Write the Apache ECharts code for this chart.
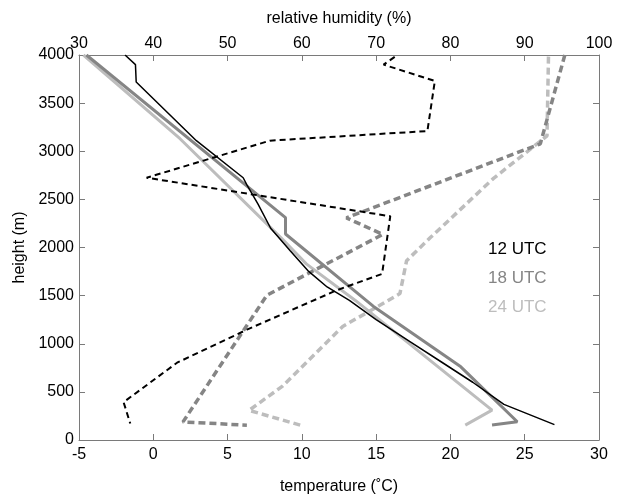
<!DOCTYPE html>
<html>
<head>
<meta charset="utf-8">
<script src="https://cdn.jsdelivr.net/npm/echarts@6/dist/echarts.min.js"></script>
<style>html,body{margin:0;padding:0;background:#fff}#c{width:622px;height:500px}</style>
</head>
<body>
<div id="c"></div>
<script>
// Temperature profiles (height m, temperature °C)
const t12_h = [4000, 3900, 3720, 3110, 2725, 2650, 2450, 2200, 1970, 1760, 1590, 1450, 1250, 1020, 800, 600, 370, 160];
const t12_T = [-1.9, -1.2, -1.15, 2.9, 6.05, 6.3, 7.05, 7.9, 9.2, 10.4, 11.7, 13.2, 15.0, 17.3, 19.5, 21.5, 23.6, 27.0];
const t18_h = [4000, 2310, 2140, 1390, 760, 190, 155];
const t18_T = [-4.5, 8.9, 8.9, 14.8, 20.7, 24.5, 22.8];
const t24_h = [4000, 3130, 2100, 1830, 1450, 310, 155];
const t24_T = [-4.7, 1.8, 8.6, 10.3, 13.6, 22.8, 21.0];
// Relative humidity profiles (height m, RH %)
const rh12_h = [3980, 3900, 3730, 3210, 3110, 2725, 2325, 1726, 1556, 1146, 803, 393, 171];
const rh12_v = [72.5, 71.0, 77.9, 76.9, 55.7, 39.1, 71.9, 70.8, 64.7, 52.6, 43.2, 36.0, 36.9];
const rh18_h = [4000, 3077, 2308, 2136, 1505, 188, 154];
const rh18_v = [95.4, 92.1, 66.0, 70.9, 55.3, 44.0, 52.6];
const rh24_h = [3983, 3160, 2718, 2103, 1863, 1521, 1400, 1180, 560, 308, 154];
const rh24_v = [93.2, 93.0, 85.8, 77.3, 74.1, 73.2, 70.5, 65.5, 57.4, 52.9, 59.8];
const legendNames = ['12 UTC', '18 UTC', '24 UTC'];
const colors = ['#000000', '#858585', '#bdbdbd'];

const pairs = (xs, hs) => xs.map((x, i) => [x, hs[i]]);
const FONT = "'Liberation Sans', Arial, sans-serif";
const axisLine = { show: true, onZero: false, lineStyle: { color: '#7a7a7a', width: 1 } };
const axisTick = { inside: true, length: 6, lineStyle: { color: '#7a7a7a' } };
const plain = v => String(v);

const chart = echarts.init(document.getElementById('c'), null, { renderer: 'canvas' });
chart.setOption({
  animation: false,
  backgroundColor: '#fff',
  textStyle: { fontFamily: FONT },
  grid: { left: 79, right: 23, top: 55, bottom: 55, containLabel: false },
  xAxis: [
    { type: 'value', position: 'bottom', min: -5, max: 30, interval: 5,
      name: 'temperature (˚C)', nameLocation: 'middle', nameGap: 39,
      nameTextStyle: { fontSize: 16, color: '#000', fontFamily: FONT },
      axisLine, axisTick, splitLine: { show: false },
      axisLabel: { fontSize: 16, color: '#000', margin: 7, fontFamily: FONT, formatter: plain } },
    { type: 'value', position: 'top', min: 30, max: 100, interval: 10,
      name: 'relative humidity (%)', nameLocation: 'middle', nameGap: 28,
      nameTextStyle: { fontSize: 16, color: '#000', fontFamily: FONT },
      axisLine, axisTick, splitLine: { show: false },
      axisLabel: { fontSize: 16, color: '#000', margin: 3, fontFamily: FONT, formatter: plain } }
  ],
  yAxis: [
    { type: 'value', position: 'left', min: 0, max: 4000, interval: 500,
      name: 'height (m)', nameLocation: 'middle', nameGap: 48,
      nameTextStyle: { fontSize: 16, color: '#000', fontFamily: FONT },
      axisLine, axisTick, splitLine: { show: false },
      axisLabel: { fontSize: 16, color: '#000', margin: 5, fontFamily: FONT, formatter: plain } },
    { type: 'value', position: 'right', min: 0, max: 4000, interval: 500,
      axisLine, axisTick, splitLine: { show: false },
      axisLabel: { show: false } }
  ],
  series: [
    { name: legendNames[0] + ' T', type: 'line', xAxisIndex: 0, yAxisIndex: 0, showSymbol: false,
      data: pairs(t12_T, t12_h), lineStyle: { color: colors[0], width: 1.5 }, z: 5 },
    { name: legendNames[1] + ' T', type: 'line', xAxisIndex: 0, yAxisIndex: 0, showSymbol: false,
      data: pairs(t18_T, t18_h), lineStyle: { color: colors[1], width: 3 }, z: 4 },
    { name: legendNames[2] + ' T', type: 'line', xAxisIndex: 0, yAxisIndex: 0, showSymbol: false,
      data: pairs(t24_T, t24_h), lineStyle: { color: colors[2], width: 3 }, z: 3 },
    { name: legendNames[0] + ' RH', type: 'line', xAxisIndex: 1, yAxisIndex: 0, showSymbol: false,
      data: pairs(rh12_v, rh12_h), lineStyle: { color: colors[0], width: 2, type: [6, 4] }, z: 5 },
    { name: legendNames[1] + ' RH', type: 'line', xAxisIndex: 1, yAxisIndex: 0, showSymbol: false,
      data: pairs(rh18_v, rh18_h), lineStyle: { color: colors[1], width: 3.5, type: [7, 4] }, z: 4 },
    { name: legendNames[2] + ' RH', type: 'line', xAxisIndex: 1, yAxisIndex: 0, showSymbol: false,
      data: pairs(rh24_v, rh24_h), lineStyle: { color: colors[2], width: 3.5, type: [7, 4] }, z: 3 }
  ],
  graphic: legendNames.map((n, i) => ({
    type: 'text', left: 488, top: 241 + i * 29, z: 10,
    style: { text: n, fill: colors[i], font: '17px ' + FONT }
  }))
});
</script>
</body>
</html>
